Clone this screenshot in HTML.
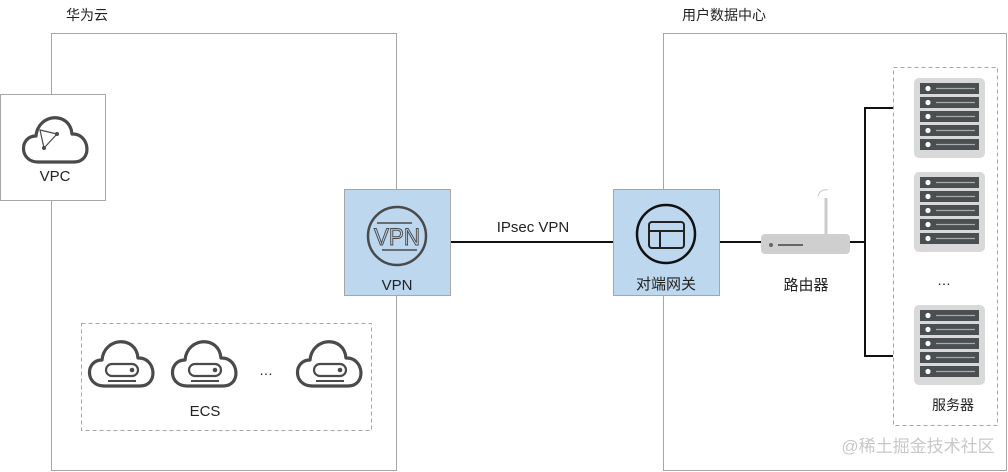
<!DOCTYPE html>
<html><head><meta charset="utf-8"><style>
html,body{margin:0;padding:0;background:#fff;}
svg{display:block;font-family:"Liberation Sans","Noto Sans CJK SC",sans-serif;}
</style></head><body>
<svg width="1008" height="472" viewBox="0 0 1008 472" xmlns="http://www.w3.org/2000/svg">
<defs>
<g id="cloud">
<path d="M-18,20 C-37,20 -37,-6 -20,-6 C-18,-29 14,-31 16,-8 C34,-9 37,20 18,20 Z" fill="none" stroke="#4a4a4a" stroke-width="3.2" stroke-linejoin="round"/>
</g>
<g id="ecs">
<use href="#cloud"/>
<rect x="-16" y="-2" width="32" height="12" rx="6" fill="none" stroke="#4a4a4a" stroke-width="2.2"/>
<circle cx="10" cy="4" r="2.3" fill="#4a4a4a"/>
<line x1="-14" y1="15" x2="14" y2="15" stroke="#4a4a4a" stroke-width="2"/>
</g>
<g id="srv">
<rect x="0" y="0" width="71" height="80" rx="5" fill="#d9d9d9"/>
<g id="bar"><rect x="6" y="5" width="59" height="11" fill="#4a4f52"/><circle cx="14" cy="10.5" r="2.6" fill="#fff"/><line x1="22" y1="10.5" x2="61" y2="10.5" stroke="#aaa" stroke-width="1.2"/></g>
<use href="#bar" y="14"/><use href="#bar" y="28"/><use href="#bar" y="42"/><use href="#bar" y="56"/>
</g>
</defs>
<text x="66" y="20" font-size="14" fill="#222">华为云</text>
<text x="682" y="20" font-size="14" fill="#222">用户数据中心</text>
<rect x="51.5" y="33.5" width="345" height="437" fill="none" stroke="#a6a6a6"/>
<rect x="663.5" y="33.5" width="343" height="437" fill="none" stroke="#a6a6a6"/>
<rect x="0.5" y="94.5" width="105" height="106" fill="#fff" stroke="#a6a6a6"/>
<use href="#cloud" x="56" y="142"/>
<path d="M40,130 L57,134 L44,148 Z" fill="none" stroke="#4a4a4a" stroke-width="1.2"/>
<circle cx="57" cy="134" r="2" fill="#4a4a4a"/><circle cx="44" cy="148" r="2" fill="#4a4a4a"/>
<text x="55" y="181" font-size="15" text-anchor="middle" fill="#222">VPC</text>
<line x1="450" y1="242" x2="613" y2="242" stroke="#111" stroke-width="2"/>
<line x1="719" y1="242" x2="865" y2="242" stroke="#111" stroke-width="2"/>
<text x="533" y="232" font-size="15" text-anchor="middle" fill="#222">IPsec VPN</text>
<rect x="344.5" y="189.5" width="106" height="106" fill="#bdd7ee" stroke="#a6a6a6"/>
<circle cx="397" cy="236" r="29" fill="none" stroke="#4a4a4a" stroke-width="2.5"/>
<text x="397" y="245" font-size="24" text-anchor="middle" fill="none" stroke="#4a4a4a" stroke-width="1" textLength="46" lengthAdjust="spacingAndGlyphs">VPN</text>
<line x1="377" y1="223" x2="412" y2="223" stroke="#4a4a4a" stroke-width="1.5"/>
<line x1="382" y1="250" x2="417" y2="250" stroke="#4a4a4a" stroke-width="1.5"/>
<text x="397" y="290" font-size="15" text-anchor="middle" fill="#222">VPN</text>
<rect x="613.5" y="189.5" width="106" height="106" fill="#bdd7ee" stroke="#a6a6a6"/>
<circle cx="666" cy="234" r="29" fill="none" stroke="#111" stroke-width="2.5"/>
<rect x="649" y="222" width="35" height="26" rx="3" fill="none" stroke="#222" stroke-width="2"/>
<line x1="649" y1="231" x2="684" y2="231" stroke="#222" stroke-width="2"/>
<line x1="660" y1="231" x2="660" y2="248" stroke="#222" stroke-width="2"/>
<text x="666" y="289" font-size="15" text-anchor="middle" fill="#222">对端网关</text>
<line x1="826" y1="198" x2="826" y2="236" stroke="#ccc" stroke-width="3"/>
<path d="M818,196 A8,8 0 0 1 828,190" fill="none" stroke="#ccc" stroke-width="1.2"/>
<rect x="761" y="234" width="89" height="20" rx="4" fill="#cfcfcf"/>
<circle cx="771" cy="245" r="2" fill="#666"/>
<line x1="778" y1="245" x2="803" y2="245" stroke="#666" stroke-width="2"/>
<text x="806" y="290" font-size="15" text-anchor="middle" fill="#222">路由器</text>
<path d="M893,108 H865 V356 H893" fill="none" stroke="#111" stroke-width="2"/>
<rect x="893.5" y="67.5" width="104" height="358" fill="none" stroke="#a6a6a6" stroke-dasharray="4,3"/>
<use href="#srv" x="914" y="78"/>
<use href="#srv" x="914" y="172"/>
<use href="#srv" x="914" y="305"/>
<text x="944" y="285" font-size="14" text-anchor="middle" fill="#222">…</text>
<text x="953" y="410" font-size="14" text-anchor="middle" fill="#222">服务器</text>
<rect x="81.5" y="323.5" width="290" height="107" fill="none" stroke="#a6a6a6" stroke-dasharray="4,3"/>
<use href="#ecs" x="122" y="366"/>
<use href="#ecs" x="205" y="366"/>
<use href="#ecs" x="330" y="366"/>
<text x="266" y="375" font-size="14" text-anchor="middle" fill="#222">…</text>
<text x="205" y="416" font-size="15" text-anchor="middle" fill="#222">ECS</text>
<text x="918" y="452" font-size="17" text-anchor="middle" fill="#c8c8c8">@稀土掘金技术社区</text>
</svg>
</body></html>
